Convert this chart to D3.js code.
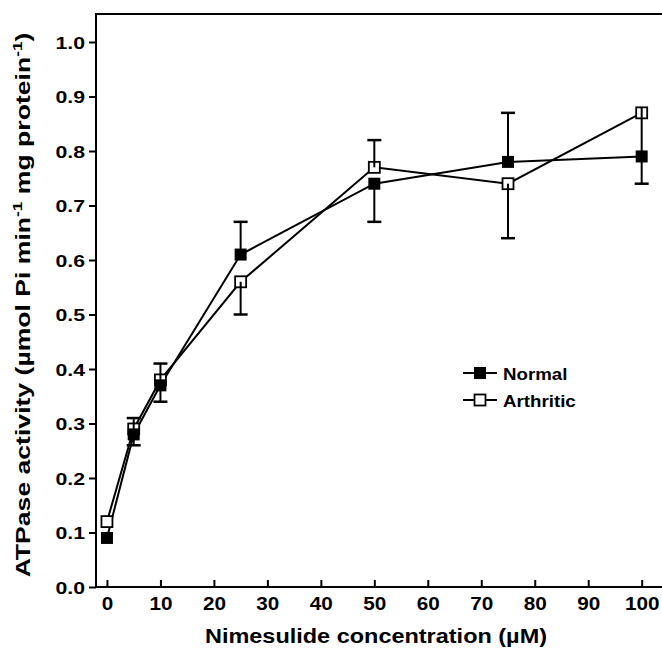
<!DOCTYPE html>
<html>
<head>
<meta charset="utf-8">
<script src="https://cdn.jsdelivr.net/npm/d3@7/dist/d3.min.js"></script>
<style>
  html, body { margin: 0; padding: 0; background: #fff; }
  svg { display: block; font-family: "Liberation Sans", Arial, Helvetica, sans-serif; font-weight: bold; }
</style>
</head>
<body>
<svg id="chart" width="662" height="649"></svg>
<script>
// ---- data ----
const concentrations = [0, 5, 10, 25, 50, 75, 100];
const normalValues    = [0.09, 0.28, 0.37, 0.61, 0.74, 0.78, 0.79];
const normalErrUp     = [0, 0, 0, 0.06, 0, 0.09, 0];
const normalErrDown   = [0, 0.02, 0.03, 0, 0.07, 0, 0.05];
const arthriticValues = [0.12, 0.29, 0.38, 0.56, 0.77, 0.74, 0.87];
const arthriticErrUp  = [0, 0.02, 0.03, 0, 0.05, 0, 0];
const arthriticErrDown= [0, 0, 0, 0.06, 0, 0.10, 0.08];
const xTicks = [0, 10, 20, 30, 40, 50, 60, 70, 80, 90, 100];
const yTicks = [0.0, 0.1, 0.2, 0.3, 0.4, 0.5, 0.6, 0.7, 0.8, 0.9, 1.0];
const seriesNames = ["Normal", "Arthritic"];

const svg = d3.select("#chart");
const mLeft = 96, mRight = 662, mTop = 14, mBottom = 587;

const x = d3.scaleLinear().domain([-2.05, 103.8]).range([mLeft, mRight]);
const y = d3.scaleLinear().domain([0, 1.0]).range([mBottom, 42]);

// stretch text horizontally (reference type is wide)
function stretch(sel, k) {
  sel.each(function () {
    const L = this.getComputedTextLength();
    d3.select(this).attr("textLength", L * k).attr("lengthAdjust", "spacingAndGlyphs");
  });
}

// top frame line
svg.append("line").attr("x1", mLeft).attr("x2", mRight).attr("y1", mTop).attr("y2", mTop)
  .attr("stroke", "#000").attr("stroke-width", 2);

// y axis
const yAxis = d3.axisLeft(y).tickValues(yTicks).tickFormat(d3.format(".1f")).tickSize(7).tickPadding(4);
const gy = svg.append("g").attr("transform", `translate(${mLeft},0)`).call(yAxis);
gy.select(".domain").remove();
gy.selectAll(".tick line").attr("stroke-width", 2);
gy.selectAll(".tick text").attr("font-size", 17).attr("font-weight", "bold").attr("fill", "#000")
  .attr("font-family", "Liberation Sans, Arial, sans-serif").attr("dy", "0.36em");
stretch(gy.selectAll(".tick text"), 1.25);
svg.append("line").attr("x1", mLeft).attr("x2", mLeft).attr("y1", mTop - 1).attr("y2", mBottom + 1)
  .attr("stroke", "#000").attr("stroke-width", 2);

// x axis (ticks inward)
const xAxis = d3.axisBottom(x).tickValues(xTicks).tickFormat(d3.format("d")).tickSize(0).tickPadding(10);
const gx = svg.append("g").attr("transform", `translate(0,${mBottom})`).call(xAxis);
gx.select(".domain").remove();
gx.selectAll(".tick text").attr("font-size", 18).attr("font-weight", "bold").attr("fill", "#000")
  .attr("font-family", "Liberation Sans, Arial, sans-serif").attr("dy", "0.71em");
stretch(gx.selectAll(".tick text"), 1.15);
gx.selectAll(".tick").append("line").attr("y1", 0).attr("y2", -7).attr("stroke", "#000").attr("stroke-width", 2);
svg.append("line").attr("x1", mLeft).attr("x2", mRight).attr("y1", mBottom).attr("y2", mBottom)
  .attr("stroke", "#000").attr("stroke-width", 2);

// axis titles
const xt = svg.append("text").attr("x", 376).attr("y", 643).attr("text-anchor", "middle")
  .attr("font-size", 20).text("Nimesulide concentration (µM)");
xt.attr("textLength", 342).attr("lengthAdjust", "spacingAndGlyphs");

const ytG = svg.append("g").attr("transform", "translate(30,305) rotate(-90)");
const yt = ytG.append("text").attr("text-anchor", "middle").attr("font-size", 20);
yt.append("tspan").text("ATPase activity (µmol Pi min");
yt.append("tspan").attr("font-size", 13).attr("dy", -8).text("-1");
yt.append("tspan").attr("dy", 8).text("  mg protein");
yt.append("tspan").attr("font-size", 13).attr("dy", -8).text("-1");
yt.append("tspan").attr("dy", 8).text(")");
{
  const bb = yt.node().getBBox();
  const k = 545 / bb.width;
  yt.attr("transform", `scale(${k},1)`);
}

// data series
const normal = concentrations.map((c, i) => ({c, v: normalValues[i], up: normalErrUp[i], dn: normalErrDown[i]}));
const arthritic = concentrations.map((c, i) => ({c, v: arthriticValues[i], up: arthriticErrUp[i], dn: arthriticErrDown[i]}));

const line = d3.line().x(d => x(d.c)).y(d => y(d.v));
[normal, arthritic].forEach(s => {
  svg.append("path").datum(s).attr("d", line).attr("fill", "none").attr("stroke", "#000").attr("stroke-width", 2);
});

const ms = 12, cap = 14;
function errorBars(s) {
  s.forEach(d => {
    const hi = d.v + d.up, lo = d.v - d.dn;
    if (d.up > 0) {
      svg.append("line").attr("x1", x(d.c)).attr("x2", x(d.c)).attr("y1", y(d.v)).attr("y2", y(hi)).attr("stroke", "#000").attr("stroke-width", 2);
      svg.append("line").attr("x1", x(d.c) - cap/2).attr("x2", x(d.c) + cap/2).attr("y1", y(hi)).attr("y2", y(hi)).attr("stroke", "#000").attr("stroke-width", 2.5);
    }
    if (d.dn > 0) {
      svg.append("line").attr("x1", x(d.c)).attr("x2", x(d.c)).attr("y1", y(d.v)).attr("y2", y(lo)).attr("stroke", "#000").attr("stroke-width", 2);
      svg.append("line").attr("x1", x(d.c) - cap/2).attr("x2", x(d.c) + cap/2).attr("y1", y(lo)).attr("y2", y(lo)).attr("stroke", "#000").attr("stroke-width", 2.5);
    }
  });
}

// arthritic open markers
svg.append("g").selectAll("rect").data(arthritic).join("rect")
  .attr("x", d => x(d.c) - ms/2 + 0.5).attr("y", d => y(d.v) - ms/2 + 0.5)
  .attr("width", ms - 1).attr("height", ms - 1).attr("fill", "#fff").attr("stroke", "#000").attr("stroke-width", 1.8);

errorBars(normal);
errorBars(arthritic.filter(d => d.c !== 100));
// at 100 µM the arthritic bar runs down toward the normal mean (no cap, hidden under marker)
{
  const d = arthritic.find(d => d.c === 100);
  svg.append("line").attr("x1", x(d.c)).attr("x2", x(d.c)).attr("y1", y(d.v) - ms/2).attr("y2", y(d.v - d.dn)).attr("stroke", "#000").attr("stroke-width", 2);
}

// normal filled markers
svg.append("g").selectAll("rect").data(normal).join("rect")
  .attr("x", d => x(d.c) - ms/2).attr("y", d => y(d.v) - ms/2)
  .attr("width", ms).attr("height", ms).attr("fill", "#000");

// legend
const legend = svg.append("g");
seriesNames.forEach((name, i) => {
  const ly = 373 + i * 27;
  legend.append("line").attr("x1", 463).attr("x2", 497).attr("y1", ly).attr("y2", ly).attr("stroke", "#000").attr("stroke-width", 2);
  if (i === 0) {
    legend.append("rect").attr("x", 480 - ms/2).attr("y", ly - ms/2).attr("width", ms).attr("height", ms).attr("fill", "#000");
  } else {
    legend.append("rect").attr("x", 480 - ms/2 + 0.5).attr("y", ly - ms/2 + 0.5).attr("width", ms - 1).attr("height", ms - 1)
      .attr("fill", "#fff").attr("stroke", "#000").attr("stroke-width", 1.8);
  }
  const t = legend.append("text").attr("x", 503).attr("y", ly + 6.5).attr("font-size", 17).text(name);
  stretch(t, 1.1);
});
</script>
</body>
</html>
